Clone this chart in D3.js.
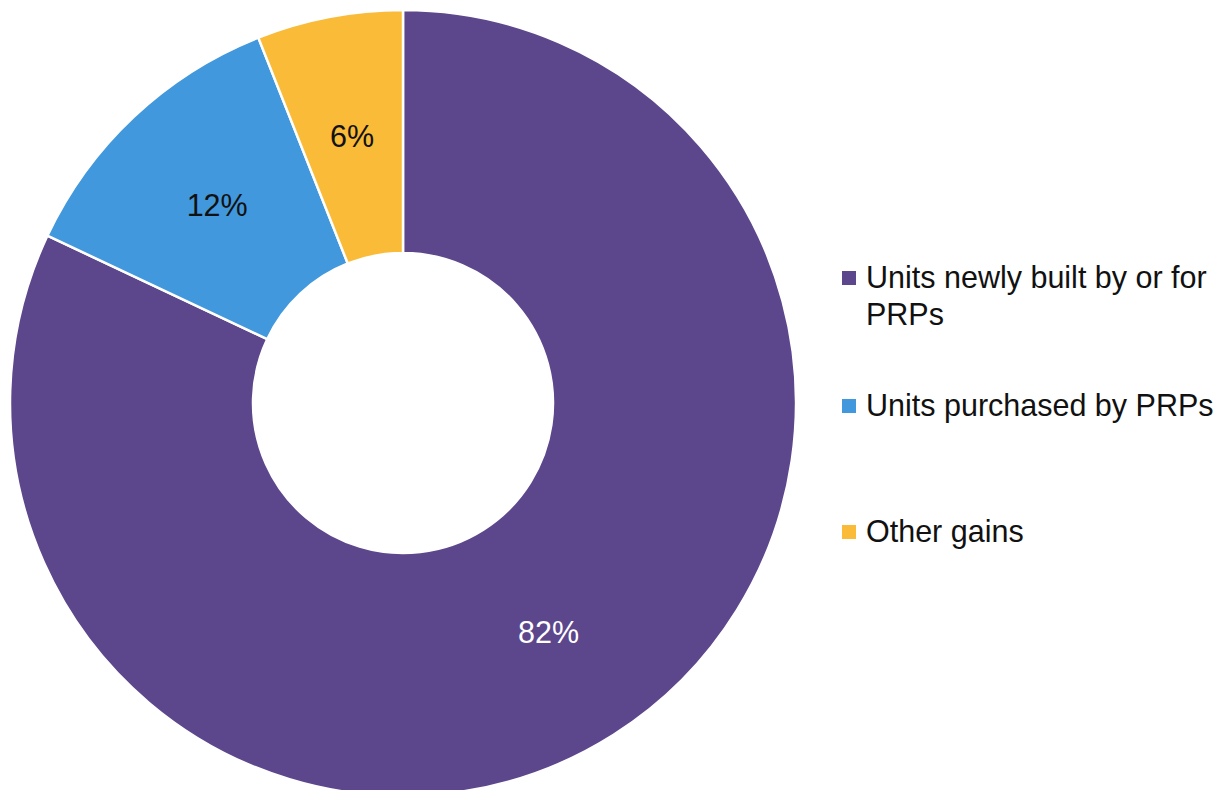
<!DOCTYPE html>
<html>
<head>
<meta charset="utf-8">
<script src="https://cdn.jsdelivr.net/npm/d3@7"></script>
<style>
  html, body { margin: 0; padding: 0; background: #ffffff; }
  svg { display: block; }
  text { font-family: "Liberation Sans", Arial, sans-serif; }
</style>
</head>
<body>
<svg id="chart" width="1229" height="790"></svg>
<script>
// Sources of additional PRP units (share of total)
const categories = ["Units newly built by or for PRPs", "Units purchased by PRPs", "Other gains"];
const legendLines = [["Units newly built by or for", "PRPs"], ["Units purchased by PRPs"], ["Other gains"]];
const values = [82, 12, 6];
const valueLabels = ["82%", "12%", "6%"];
const colors = ["#5c468c", "#4198dc", "#f9bb38"];
const labelColors = ["#ffffff", "#111111", "#111111"];

const svg = d3.select("#chart");
const cx = 403, cy = 403, outerR = 393, innerR = 150;
const fontSize = 30.5;

const data = categories.map((c, i) => ({ name: c, value: values[i], label: valueLabels[i], i }));

const pie = d3.pie().value(d => d.value).sort(null);
const arc = d3.arc().innerRadius(innerR).outerRadius(outerR);

const g = svg.append("g").attr("transform", `translate(${cx},${cy})`);
const arcs = pie(data);

g.selectAll("path.slice")
  .data(arcs)
  .join("path")
  .attr("class", "slice")
  .attr("d", arc)
  .attr("fill", d => colors[d.data.i])
  .attr("stroke", "#ffffff")
  .attr("stroke-width", 2.5)
  .attr("stroke-linejoin", "miter");

g.selectAll("text.value")
  .data(arcs)
  .join("text")
  .attr("class", "value")
  .attr("transform", d => `translate(${arc.centroid(d)})`)
  .attr("text-anchor", "middle")
  .attr("dy", "0.36em")
  .attr("font-size", fontSize)
  .attr("fill", d => labelColors[d.data.i])
  .text(d => d.data.label);

// Legend
const legendX = 842, swatch = 14;
const baselines = [288, 416, 542];
const lineGap = 37;
const legend = svg.append("g");
legendLines.forEach((lines, i) => {
  const row = legend.append("g");
  row.append("rect")
    .attr("x", legendX)
    .attr("y", baselines[i] - 10 - swatch / 2)
    .attr("width", swatch)
    .attr("height", swatch)
    .attr("fill", colors[i]);
  const t = row.append("text")
    .attr("x", legendX + 24)
    .attr("y", baselines[i])
    .attr("font-size", fontSize)
    .attr("fill", "#111111");
  lines.forEach((ln, j) => {
    t.append("tspan")
      .attr("x", legendX + 24)
      .attr("y", baselines[i] + j * lineGap)
      .text(ln);
  });
});
</script>
</body>
</html>
